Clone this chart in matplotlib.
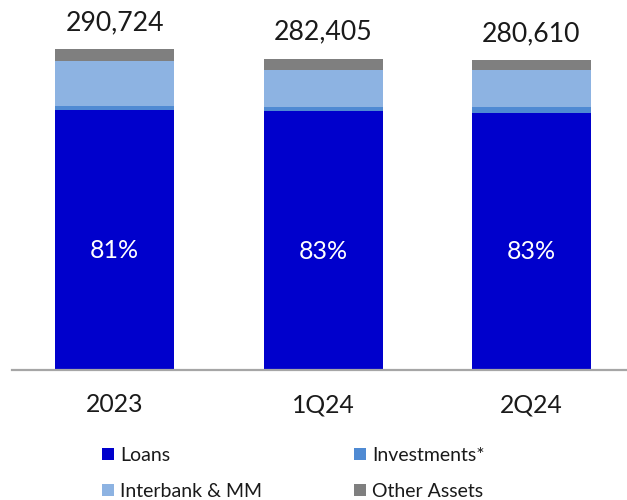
import matplotlib
matplotlib.use("Agg")
import matplotlib.pyplot as plt
from matplotlib.patches import Patch

plt.rcParams["font.family"] = ["Lato", "DejaVu Sans"]

# Total assets breakdown (millions)
periods = ["2023", "1Q24", "2Q24"]
loans = [235486, 234396, 232906]
investments = [3960, 4000, 5330]
interbank_mm = [40880, 33859, 33374]
other_assets = [10398, 10150, 9000]

series = [
    ("Loans", loans, "#0000CC"),
    ("Investments*", investments, "#4F8AD3"),
    ("Interbank & MM", interbank_mm, "#8DB3E2"),
    ("Other Assets", other_assets, "#7F7F7F"),
]

W, H = 627, 500
fig = plt.figure(figsize=(W / 100, H / 100), dpi=100)
ax = fig.add_axes([12 / W, (H - 369.7) / H, (W - 12) / W, 369.7 / H])

x = list(range(len(periods)))
bar_w = 0.571
bottom = [0.0] * len(periods)
for name, vals, color in series:
    ax.bar(x, vals, bar_w, bottom=bottom, color=color, label=name,
           edgecolor="none", zorder=2)
    bottom = [b + v for b, v in zip(bottom, vals)]

totals = bottom
text_color = "#1A1A1A"

# Total labels above each stack
for xi, tot in zip(x, totals):
    ax.annotate(f"{tot:,.0f}", (xi, tot), xytext=(0, 13.9),
                textcoords="offset points", ha="center", va="baseline",
                fontsize=19.2, color=text_color)

# Loan share inside the loans segment
for xi, ln, tot in zip(x, loans, totals):
    ax.annotate(f"{ln / tot:.0%}", (xi, ln / 2), xytext=(0, -13),
                textcoords="offset points", ha="center", va="baseline",
                fontsize=18, color="white")

ax.set_xlim(-0.4935, 2.459)
ax.set_ylim(0, 335500)
ax.set_xticks(x, periods, fontsize=17.8, color=text_color)
ax.tick_params(axis="x", length=0, pad=17)
ax.set_yticks([])
for side in ("top", "right", "left"):
    ax.spines[side].set_visible(False)
ax.spines["bottom"].set_color("#A6A6A6")
ax.spines["bottom"].set_linewidth(1.6)
ax.spines["bottom"].set_zorder(3)

handles = [Patch(facecolor=c, edgecolor="none") for _, _, c in series]
labels = [n for n, _, _ in series]
order = [0, 2, 1, 3]
leg = fig.legend([handles[i] for i in order], [labels[i] for i in order],
                 ncol=2, loc="upper left",
                 bbox_to_anchor=(102 / W, 1 - 447 / H),
                 frameon=False, fontsize=14, handlelength=0.62,
                 handleheight=0.62, handletextpad=0.31, columnspacing=4.74,
                 labelspacing=0.97, borderpad=0, borderaxespad=0)
for t in leg.get_texts():
    t.set_color(text_color)

fig.savefig("out.png", dpi=100)
